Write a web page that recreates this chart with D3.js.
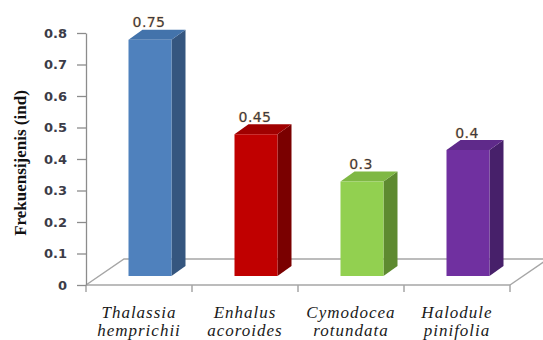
<!DOCTYPE html>
<html>
<head>
<meta charset="utf-8">
<script src="https://cdn.jsdelivr.net/npm/d3@7"></script>
<style>
  body { margin: 0; background: #fff; }
  svg { display: block; }
</style>
</head>
<body>
<svg id="chart" width="543" height="340"></svg>
<script>
const categories = ["Thalassia hemprichii", "Enhalus acoroides", "Cymodocea rotundata", "Halodule pinifolia"];
const values = [0.75, 0.45, 0.3, 0.4];
const valueLabels = ["0.75", "0.45", "0.3", "0.4"];
const yTicks = [0, 0.1, 0.2, 0.3, 0.4, 0.5, 0.6, 0.7, 0.8];
const frontColors = ["#4f81bd", "#c00000", "#92d050", "#7030a0"];
const sideColors = ["#35567f", "#7a0000", "#5e8a30", "#47206a"];
const topColors = ["#4373ab", "#a00000", "#7fb844", "#5f2a8a"];
const yTitle = "Frekuensijenis (ind)";

const svg = d3.select("#chart");
const width = 543, height = 340;
const margin = {top: 33, right: 33, bottom: 55, left: 86};

// floor depth offset and bar depth
const depth = {dx: 38, dy: -26};
const barDepth = {dx: 14, dy: -10};
const barLift = 9, barShift = 11, barWidth = 43;

const xScale = d3.scaleBand()
    .domain(categories)
    .range([margin.left, width - margin.right]);
const yScale = d3.scaleLinear()
    .domain([0, 0.8])
    .range([height - margin.bottom, margin.top]);

const y0 = yScale(0);
const xEnd = width - margin.right;

// floor
const floor = svg.append("g")
    .attr("fill", "none")
    .attr("stroke", "#a6a6a6")
    .attr("stroke-width", 1.5);
floor.append("path")
    .attr("d", `M${margin.left},${y0} L${margin.left + depth.dx},${y0 + depth.dy} L${xEnd + depth.dx},${y0 + depth.dy}`);
floor.append("path")
    .attr("d", `M${xEnd},${y0} L${xEnd + depth.dx},${y0 + depth.dy}`);
floor.append("line")
    .attr("x1", margin.left).attr("x2", xEnd)
    .attr("y1", y0).attr("y2", y0);

// category boundary ticks
const edges = categories.map(c => xScale(c)).concat([xEnd]);
svg.append("g")
    .selectAll("line")
    .data(edges)
    .join("line")
    .attr("x1", d => d).attr("x2", d => d)
    .attr("y1", y0).attr("y2", y0 + 7)
    .attr("stroke", "#a6a6a6")
    .attr("stroke-width", 1.5);

// y axis
const yAxis = d3.axisLeft(yScale)
    .tickValues(yTicks)
    .tickFormat(d => d === 0 ? "0" : d3.format(".1f")(d))
    .tickSize(9)
    .tickSizeOuter(0)
    .tickPadding(10);
const gY = svg.append("g")
    .attr("transform", `translate(${margin.left},0)`)
    .call(yAxis);
gY.selectAll(".domain, .tick line")
    .attr("stroke", "#8c8c8c")
    .attr("stroke-width", 1.3);
gY.selectAll(".tick text")
    .attr("fill", "#3c3c48")
    .style("font-family", "'DejaVu Sans', sans-serif")
    .style("font-size", "13px")
    .style("font-weight", "bold");

// y title
svg.append("text")
    .attr("transform", `translate(26,${(margin.top + y0) / 2 + 4}) rotate(-90)`)
    .attr("text-anchor", "middle")
    .style("font-family", "'Liberation Serif', 'Times New Roman', serif")
    .style("font-weight", "bold")
    .style("font-size", "17px")
    .attr("fill", "#111")
    .text(yTitle);

// bars
const bars = svg.append("g")
    .selectAll("g")
    .data(categories)
    .join("g");

function barGeom(c, i) {
  const cx = xScale(c) + xScale.bandwidth() / 2 + barShift;
  const x0 = cx - barWidth / 2, x1 = cx + barWidth / 2;
  const top = yScale(values[i]) - barLift, bottom = y0 - barLift;
  return {x0, x1, top, bottom, cx};
}

bars.append("polygon")
    .attr("points", (c, i) => {
      const g = barGeom(c, i);
      return [[g.x1, g.top], [g.x1 + barDepth.dx, g.top + barDepth.dy],
              [g.x1 + barDepth.dx, g.bottom + barDepth.dy], [g.x1, g.bottom]].join(" ");
    })
    .attr("fill", (c, i) => sideColors[i]);

bars.append("polygon")
    .attr("points", (c, i) => {
      const g = barGeom(c, i);
      return [[g.x0, g.top], [g.x0 + barDepth.dx, g.top + barDepth.dy],
              [g.x1 + barDepth.dx, g.top + barDepth.dy], [g.x1, g.top]].join(" ");
    })
    .attr("fill", (c, i) => topColors[i]);

bars.append("rect")
    .attr("x", (c, i) => barGeom(c, i).x0)
    .attr("y", (c, i) => barGeom(c, i).top)
    .attr("width", barWidth)
    .attr("height", (c, i) => barGeom(c, i).bottom - barGeom(c, i).top)
    .attr("fill", (c, i) => frontColors[i]);

bars.append("text")
    .attr("x", (c, i) => barGeom(c, i).cx - 1)
    .attr("y", (c, i) => barGeom(c, i).top - 12.5)
    .attr("text-anchor", "middle")
    .style("font-family", "'DejaVu Sans', sans-serif")
    .style("font-size", "14px")
    .style("letter-spacing", "0.4px")
    .attr("fill", "#3a3a44")
    .attr("stroke", "#f6c27a")
    .attr("stroke-width", 0.6)
    .attr("paint-order", "stroke")
    .text((c, i) => valueLabels[i]);

// category labels (two lines, italic serif)
const labels = svg.append("g")
    .selectAll("text")
    .data(categories)
    .join("text")
    .attr("x", c => xScale(c) + xScale.bandwidth() / 2)
    .attr("y", y0 + 33)
    .attr("text-anchor", "middle")
    .style("font-family", "'Liberation Serif', 'Times New Roman', serif")
    .style("font-style", "italic")
    .style("font-size", "17px")
    .style("letter-spacing", "1px")
    .attr("fill", "#1a1a1a");
labels.each(function(c) {
  const words = c.split(" ");
  const t = d3.select(this);
  words.forEach((w, k) => {
    t.append("tspan")
        .attr("x", xScale(c) + xScale.bandwidth() / 2)
        .attr("dy", k === 0 ? 0 : 18)
        .text(w);
  });
});
</script>
</body>
</html>
